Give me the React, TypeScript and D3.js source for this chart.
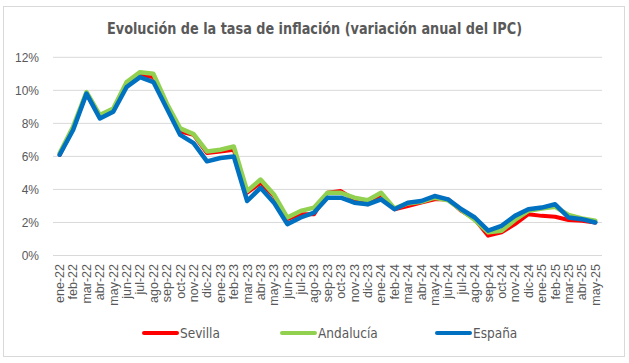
import React from "react";
import * as d3 from "d3";

const months = [
  "ene-22","feb-22","mar-22","abr-22","may-22","jun-22","jul-22","ago-22","sep-22","oct-22","nov-22","dic-22",
  "ene-23","feb-23","mar-23","abr-23","may-23","jun-23","jul-23","ago-23","sep-23","oct-23","nov-23","dic-23",
  "ene-24","feb-24","mar-24","abr-24","may-24","jun-24","jul-24","ago-24","sep-24","oct-24","nov-24","dic-24",
  "ene-25","feb-25","mar-25","abr-25","may-25",
];

const sevilla = [
  6.1, 7.7, 9.8, 8.4, 8.8, 10.4, 10.9, 10.8, 9.1, 7.5, 7.3, 6.2,
  6.3, 6.4, 3.8, 4.4, 3.6, 2.2, 2.5, 2.5, 3.8, 3.9, 3.4, 3.1,
  3.7, 2.8, 3.0, 3.2, 3.4, 3.4, 2.7, 2.2, 1.2, 1.4, 1.9, 2.5,
  2.4, 2.35, 2.15, 2.1, 2.0,
];

const andalucia = [
  6.2, 7.8, 9.9, 8.5, 8.9, 10.5, 11.1, 11.0, 9.2, 7.7, 7.35, 6.3,
  6.4, 6.6, 3.9, 4.6, 3.7, 2.3, 2.7, 2.9, 3.8, 3.8, 3.5, 3.35,
  3.8, 2.85, 3.15, 3.25, 3.5, 3.35, 2.75, 2.15, 1.4, 1.5, 2.15, 2.7,
  2.85, 2.95, 2.45, 2.25, 2.1,
];

const espana = [
  6.1, 7.6, 9.8, 8.3, 8.7, 10.2, 10.8, 10.5, 8.9, 7.3, 6.8, 5.7,
  5.9, 6.0, 3.3, 4.1, 3.2, 1.9, 2.3, 2.6, 3.5, 3.5, 3.2, 3.1,
  3.4, 2.8, 3.2, 3.3, 3.6, 3.4, 2.8, 2.3, 1.5, 1.8, 2.4, 2.8,
  2.9, 3.1, 2.3, 2.2, 2.0,
];

const yTicks = [0, 2, 4, 6, 8, 10, 12];

const seriesNames = ["Sevilla", "Andalucía", "España"];
const seriesColors = ["#FF0000", "#92D050", "#0070C0"];

export default function App() {
  const W = 629, H = 363;
  const left = 53, right = 602, top = 57.3, bottom = 255.5;
  const x = d3.scaleBand<string>().domain(months).range([left, right]);
  const y = d3.scaleLinear().domain([0, 12]).range([bottom, top]);
  const line = d3.line<number>()
    .x((_, i) => (x(months[i]) as number) + x.bandwidth() / 2)
    .y((d) => y(d));
  const data = [sevilla, andalucia, espana];
  const widths = [4, 4.5, 4.5];
  const legendX = [144, 282, 437];
  const font = "'Liberation Sans', Arial, sans-serif";
  const narrow = "'DejaVu Sans Condensed', 'DejaVu Sans', sans-serif";

  return (
    <div style={{ position: "absolute", left: 0, top: 0 }}>
      <svg width={W} height={H} style={{ display: "block", background: "#fff" }}>
        <rect x={3.5} y={6.5} width={621} height={350} fill="#fff" stroke="#D9D9D9" />
        <text x={107} y={34} textLength={415} lengthAdjust="spacingAndGlyphs" fontFamily={narrow}
          fontWeight="bold" fontSize={15.5} fill="#595959">
          Evolución de la tasa de inflación (variación anual del IPC)
        </text>
        {yTicks.map((t) => (
          <g key={t}>
            <line x1={left} x2={right} y1={y(t)} y2={y(t)} stroke="#D9D9D9" strokeWidth={1} />
            <text x={39} y={y(t)} dy="0.35em" textAnchor="end" fontFamily={font} fontSize={12} fill="#595959">
              {t}%
            </text>
          </g>
        ))}
        {months.map((m) => {
          const cx = (x(m) as number) + x.bandwidth() / 2;
          return (
            <text key={m} transform={`translate(${cx},264) rotate(-90)`} dy="0.35em" textAnchor="end"
              fontFamily={font} fontSize={12.5} fill="#595959">
              {m}
            </text>
          );
        })}
        {data.map((d, k) => (
          <path key={k} d={line(d) as string} fill="none" stroke={seriesColors[k]} strokeWidth={widths[k]}
            strokeLinejoin="round" strokeLinecap="round" />
        ))}
        {seriesNames.map((n, k) => (
          <g key={n}>
            <line x1={legendX[k]} x2={legendX[k] + 33} y1={333} y2={333} stroke={seriesColors[k]} strokeWidth={4} strokeLinecap="round" />
            <text x={legendX[k] + 36} y={333} dy="0.35em" fontFamily={narrow} fontSize={13.5} fill="#595959">{n}</text>
          </g>
        ))}
      </svg>
    </div>
  );
}
